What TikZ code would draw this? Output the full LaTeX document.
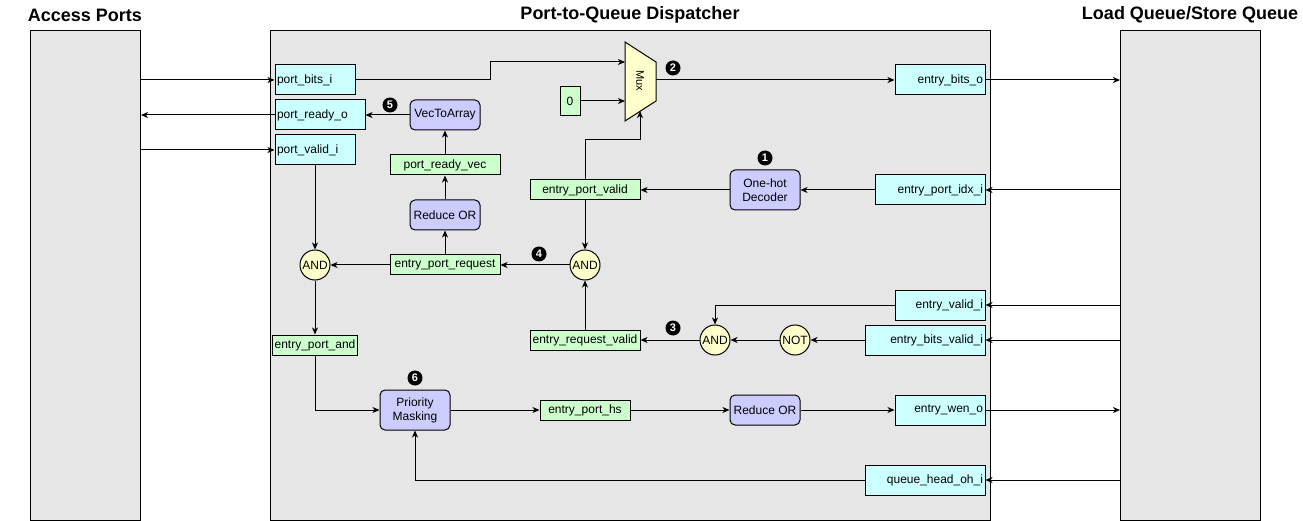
\documentclass[tikz,border=0pt]{standalone}
\usepackage{fontspec}
\setmainfont{Liberation Sans}
\usetikzlibrary{arrows.meta}
\definecolor{boxgray}{HTML}{E6E6E6}
\definecolor{portcyan}{HTML}{CCFFFF}
\definecolor{sigreen}{HTML}{CCFFCC}
\definecolor{oplav}{HTML}{CCCCFF}
\definecolor{gateyel}{HTML}{FFFFCC}
\begin{document}
\begin{tikzpicture}[x=1pt,y=-1pt, line width=1pt,
 base/.style={draw=black, line width=1pt, inner sep=0pt, font=\fontsize{12}{14}\selectfont, text=black},
 block/.style={base, fill=boxgray, anchor=north west},
 lport/.style={base, fill=portcyan, minimum height=30pt, inner xsep=2pt, align=left},
 rport/.style={base, fill=portcyan, minimum height=30pt, inner xsep=2pt, align=right},
 sig/.style={base, fill=sigreen, minimum height=20pt},
 op/.style={base, fill=oplav, rounded corners=5pt, align=center},
 gate/.style={base, circle, fill=gateyel, minimum size=30pt},
 badge/.style={circle, fill=black, text=white, inner sep=0pt, minimum size=15pt, font=\fontsize{11}{11}\selectfont\bfseries},
 title/.style={font=\fontsize{18}{20}\selectfont\bfseries},
 arr/.style={-{Stealth[length=7pt,width=6pt,inset=2pt]}, line width=1pt},
]
\useasboundingbox (0,0) rectangle (1303,521);
% titles
\node[title] (t1) at (85,15) {Access Ports};
\node[title] (t2) at (630,15) {Port-to-Queue Dispatcher};
\node[title] (t3) at (1190,15) {Load Queue/Store Queue};
% big blocks
\node[block, minimum width=110pt, minimum height=490pt] (ap) at (30,30) {};
\node[block, minimum width=720pt, minimum height=490pt] (pqd) at (270,30) {};
\node[block, minimum width=140pt, minimum height=490pt] (lsq) at (1120,30) {};
% left ports
\node[lport, text width=76pt] (pbi) at (315,80) {port\_bits\_i};
\node[lport, text width=86pt] (pro) at (320,115) {port\_ready\_o};
\node[lport, text width=76pt] (pvi) at (315,150) {port\_valid\_i};
% right ports
\node[rport, text width=86pt] (ebo) at (940,80) {entry\_bits\_o};
\node[rport, text width=106pt] (epi) at (930,190) {entry\_port\_idx\_i};
\node[rport, text width=86pt] (evi) at (940,305) {entry\_valid\_i};
\node[rport, text width=116pt] (ebvi) at (925,340) {entry\_bits\_valid\_i};
\node[rport, text width=86pt] (ewo) at (940,410) {entry\_wen\_o};
\node[rport, text width=116pt] (qho) at (925,480) {queue\_head\_oh\_i};
% operators
\node[op, minimum width=70pt, minimum height=30pt] (vta) at (445,115) {VecToArray};
\node[op, minimum width=70pt, minimum height=30pt] (ro1) at (445,215) {Reduce OR};
\node[op, minimum width=70pt, minimum height=40pt] (ohd) at (765,190) {One-hot\\Decoder};
\node[op, minimum width=70pt, minimum height=30pt] (ro2) at (765,410) {Reduce OR};
\node[op, minimum width=70pt, minimum height=40pt] (pm) at (415,410) {Priority\\Masking};
% signals
\node[sig, minimum width=110pt] (prv) at (445,165) {port\_ready\_vec};
\node[sig, minimum width=110pt] (epr) at (445,265) {entry\_port\_request};
\node[sig, minimum width=110pt] (epv) at (585,190) {entry\_port\_valid};
\node[sig, minimum width=110pt] (erv) at (585,340) {entry\_request\_valid};
\node[sig, minimum width=85pt] (epa) at (315,345) {entry\_port\_and};
\node[sig, minimum width=90pt] (eph) at (585,410) {entry\_port\_hs};
\node[sig, minimum width=20pt, minimum height=29pt] (zero) at (570,101) {0};
% gates
\node[gate] (and1) at (315,265) {AND};
\node[gate] (and2) at (585,265) {AND};
\node[gate] (and3) at (715,340) {AND};
\node[gate] (not) at (795,340) {NOT};
% mux
\draw[draw=black, fill=gateyel, line width=1pt] (625,42) -- (656,62) -- (656,101) -- (625,121) -- cycle;
\node[rotate=-90, font=\fontsize{11}{11}\selectfont] (muxlbl) at (640,81) {Mux};
\coordinate (muxa) at (625,62);
\coordinate (muxb) at (625,101);
\coordinate (muxs) at (640,111);
\coordinate (muxo) at (656,80);
% badges
\node[badge] (b1) at (765,158) {1};
\node[badge] (b2) at (673,68) {2};
\node[badge] (b3) at (673,328) {3};
\node[badge] (b4) at (539,254) {4};
\node[badge] (b5) at (390,105) {5};
\node[badge] (b6) at (415,378) {6};
% connectors
\draw[arr] (ap.east |- pbi.west) -- (pbi.west);
\draw[arr] (pro.west) -- (ap.east |- pro.west);
\draw[arr] (ap.east |- pvi.west) -- (pvi.west);
\draw[arr] (pbi.east) -- ++(135,0) |- (muxa);
\draw[arr] (zero.east) -- (muxb);
\draw[arr] (epv.north) -- ++(0,-40) -| (muxs);
\draw[arr] (muxo) -- (ebo.west);
\draw[arr] (ebo.east) -- (ebo.east -| lsq.west);
\draw[arr] (lsq.west |- epi.east) -- (epi.east);
\draw[arr] (epi.west) -- (ohd.east);
\draw[arr] (ohd.west) -- (epv.east);
\draw[arr] (epv.south) -- (and2.north);
\draw[arr] (erv.north) -- (and2.south);
\draw[arr] (and2.west) -- (epr.east);
\draw[arr] (epr.west) -- (and1.east);
\draw[arr] (epr.north) -- (ro1.south);
\draw[arr] (ro1.north) -- (prv.south);
\draw[arr] (prv.north) -- (vta.south);
\draw[arr] (vta.west) -- (pro.east);
\draw[arr] (pvi.south) -- (and1.north);
\draw[arr] (and1.south) -- (epa.north);
\draw[arr] (epa.south) |- (pm.west);
\draw[arr] (pm.east) -- (eph.west);
\draw[arr] (eph.east) -- (ro2.west);
\draw[arr] (ro2.east) -- (ewo.west);
\draw[arr] (ewo.east) -- (ewo.east -| lsq.west);
\draw[arr] (lsq.west |- qho.east) -- (qho.east);
\draw[arr] (qho.west) -| (pm.south);
\draw[arr] (lsq.west |- evi.east) -- (evi.east);
\draw[arr] (lsq.west |- ebvi.east) -- (ebvi.east);
\draw[arr] (evi.west) -| (and3.north);
\draw[arr] (ebvi.west) -- (not.east);
\draw[arr] (not.west) -- (and3.east);
\draw[arr] (and3.west) -- (erv.east);
\end{tikzpicture}
\end{document}
